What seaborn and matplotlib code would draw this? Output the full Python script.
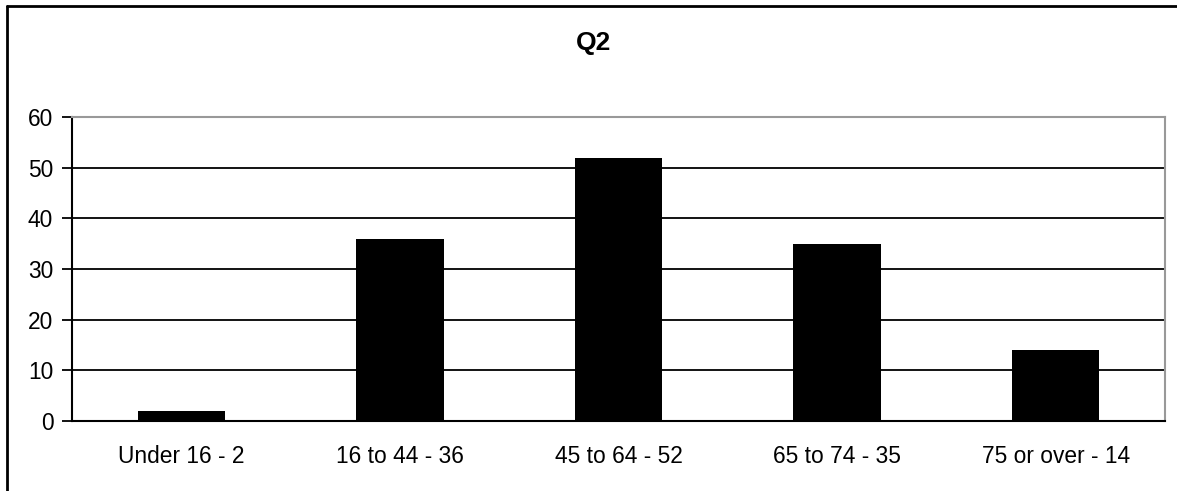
import matplotlib
matplotlib.use("Agg")
import matplotlib.pyplot as plt
from matplotlib.lines import Line2D
import seaborn as sns
import pandas as pd

categories = ["Under 16 - 2", "16 to 44 - 36", "45 to 64 - 52", "65 to 74 - 35", "75 or over - 14"]
counts = [2, 36, 52, 35, 14]
y_ticks = [0, 10, 20, 30, 40, 50, 60]
title = "Q2"

sns.set_theme(style="white")
plt.rcParams["font.family"] = ["Liberation Sans", "DejaVu Sans"]

df = pd.DataFrame({"category": categories, "count": counts})

fig = plt.figure(figsize=(11.77, 4.91), dpi=100)
ax = fig.add_axes([72 / 1177, 1 - 421 / 491, (1165 - 72) / 1177, (421 - 117) / 491])

sns.barplot(data=df, x="category", y="count", color="black", width=0.4,
            saturation=1, edgecolor="black", linewidth=0, ax=ax, zorder=3)

ax.set_xlim(-0.5, len(categories) - 0.5)
ax.set_ylim(0, 60)
ax.set_yticks(y_ticks)
ax.set_xlabel("")
ax.set_ylabel("")

# horizontal gridlines
ax.yaxis.grid(True, color="black", linewidth=1.3)
ax.set_axisbelow(True)

# tick marks between categories on the x axis
ax.set_xticks(range(len(categories)))
ax.set_xticks([i - 0.5 for i in range(len(categories) + 1)], minor=True)
ax.tick_params(axis="x", which="major", length=0, labelsize=16.4, pad=17, colors="black")
ax.tick_params(axis="x", which="minor", length=7, width=1.3, direction="out", color="black")
ax.tick_params(axis="y", which="major", length=7, width=1.3, direction="out",
               labelsize=16.4, pad=6.5, colors="black", left=True)

for side in ["left", "bottom"]:
    ax.spines[side].set_color("black")
    ax.spines[side].set_linewidth(1.5)
for side in ["top", "right"]:
    ax.spines[side].set_color("#999999")
    ax.spines[side].set_linewidth(1.5)

fig.text(594 / 1177, 1 - 43 / 491, title, ha="center", va="center",
         fontsize=19, fontweight="bold", color="black")

# outer frame along the left and top edges
fig.add_artist(Line2D([6.5 / 1177, 6.5 / 1177], [0, 1 - 6 / 491],
                      transform=fig.transFigure, color="black", linewidth=2))
fig.add_artist(Line2D([6.5 / 1177, 1], [1 - 6 / 491, 1 - 6 / 491],
                      transform=fig.transFigure, color="black", linewidth=2))

fig.savefig("out.png", dpi=100, facecolor="white")
